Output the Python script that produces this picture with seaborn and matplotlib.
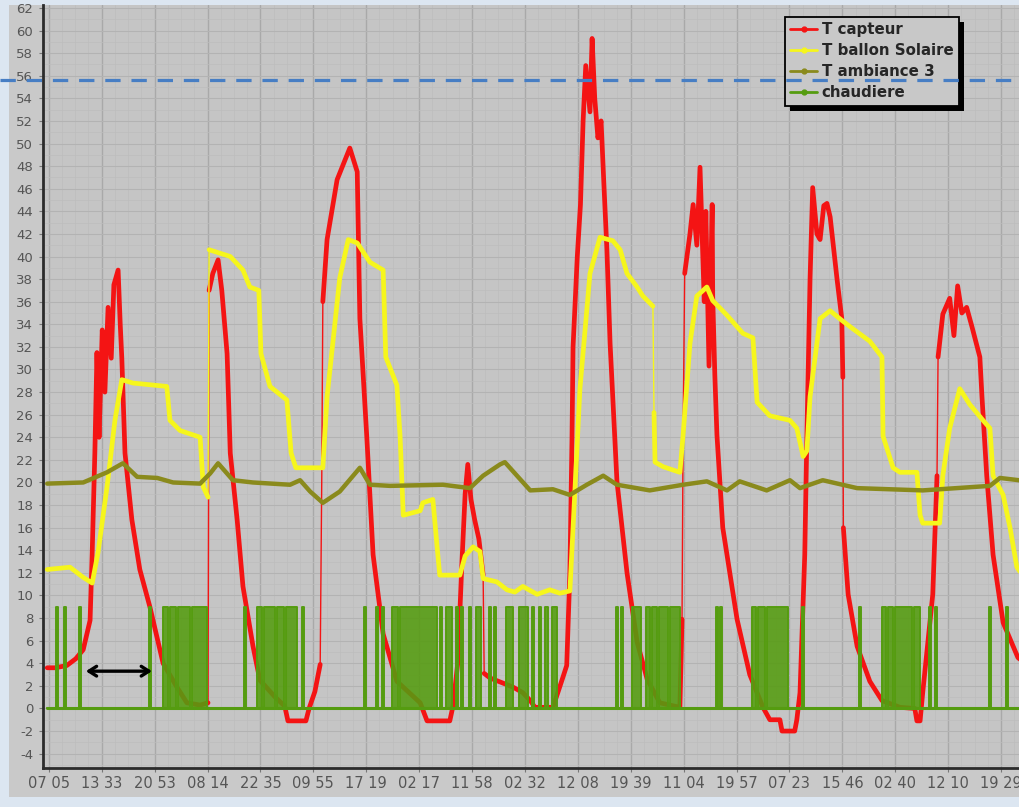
"""Solar collector / tank / room temperatures with boiler on-off trace."""

import matplotlib

matplotlib.use("Agg")

import matplotlib.pyplot as plt
import pandas as pd
import seaborn as sns
from matplotlib.lines import Line2D
from matplotlib.patches import Rectangle
from matplotlib.ticker import FixedLocator, MultipleLocator
from matplotlib.transforms import blended_transform_factory

# x is the logger sample index, one tick label every 100 samples
tick_labels = [
    "07 05", "13 33", "20 53", "08 14", "22 35", "09 55", "17 19", "02 17", "11 58", "02 32",
    "12 08", "19 39", "11 04", "19 57", "07 23", "15 46", "02 40", "12 10", "19 29",
]

red_x = [
    -11, 4, 26, 43, 57, 70, 74, 79, 83, 87,
    93, 98, 104, 110, 115, 123, 127, 130, 136, 149,
    164, 183, 208, 234, 253, 278, 293, 295, 302, 312,
    319, 329, 335, 348, 359, 378, 391, 420, 438, 444,
    478, 484, 495, 505, 508, 510, 518, 537, 561, 575,
    580, 593, 605, 624, 650, 694, 707, 750, 756, 765,
    773, 779, 784, 790, 797, 805, 813, 815, 826, 869,
    888, 902, 911, 945, 962, 971, 977, 981, 983, 991,
    997, 1002, 1007, 1015, 1019, 1024, 1030, 1036, 1041, 1047,
    1053, 1066, 1085, 1104, 1123, 1147, 1185, 1189, 1191, 1194,
    1204, 1210, 1217, 1223, 1231, 1234, 1240, 1246, 1247, 1251,
    1255, 1266, 1293, 1317, 1342, 1355, 1374, 1378, 1402, 1406,
    1412, 1421, 1425, 1431, 1436, 1444, 1450, 1457, 1463, 1469,
    1482, 1491, 1493, 1494, 1503, 1520, 1544, 1567, 1601, 1629,
    1633, 1639, 1644, 1663, 1671, 1673, 1682, 1695, 1703, 1710,
    1718, 1727, 1737, 1752, 1756, 1765, 1777, 1796, 1824, 1837,
]
red_y = [
    3.6, 3.6, 3.8, 4.4, 5.2, 7.8, 13.8, 22.6, 31.5, 24,
    33.5, 28, 35.5, 31, 37.5, 38.8, 34, 31, 22.6, 16.7,
    12.3, 9, 4, 1.9, 0.5, 0.3, 0.5, 37, 38.5, 39.7,
    37, 31.4, 22.6, 16.7, 10.8, 5.5, 2.5, 1.0, 0.2, -1.1,
    -1.1, 0, 1.5, 3.9, 20.6, 36, 41.5, 46.8, 49.6, 47.5,
    34.5, 24.1, 13.6, 6.6, 2.4, 0.5, -1.1, -1.1, 0.2, 4,
    13, 19, 21.6, 18.5, 16.7, 15, 11.8, 3.1, 2.7, 1.9,
    1.4, 0.7, 0.1, 0.1, 2.5, 3.8, 12, 24, 32, 40,
    44.6, 52, 56.9, 52.8, 59.3, 54, 50.5, 52, 46.7, 40.6,
    32.3, 20.1, 12, 5.9, 2.6, 0.5, 0.1, 7.9, 24.2, 38.5,
    42, 44.6, 41, 47.9, 36, 44, 30.3, 44.6, 36.5, 29.5,
    24.2, 16, 7.9, 3, 0.1, -1, -1, -2, -2, -1,
    1.4, 13.6, 24.1, 38, 46.1, 42, 41.5, 44.5, 44.7, 43.5,
    38, 34.5, 29.3, 16, 10.1, 5.5, 2.4, 0.7, 0.1, 0,
    -1.1, -1.1, 1.4, 10.1, 20.6, 31.1, 34.9, 36.3, 33, 37.4,
    35, 35.5, 33.8, 31.1, 27.6, 20.6, 13.6, 7.6, 4.5, 4,
]

yellow_x = [
    -11, 32, 57, 74, 85, 102, 117, 130, 151, 215,
    221, 240, 278, 284, 293, 295, 335, 359, 372, 389,
    393, 410, 442, 450, 459, 510, 518, 542, 558, 575,
    599, 624, 629, 650, 656, 662, 694, 699, 718, 726,
    731, 769, 779, 794, 807, 813, 839, 858, 873, 888,
    915, 939, 958, 977, 983, 996, 1015, 1034, 1058, 1072,
    1085, 1104, 1115, 1134, 1136, 1138, 1153, 1185, 1191, 1204,
    1217, 1236, 1247, 1274, 1304, 1323, 1331, 1355, 1393, 1406,
    1418, 1425, 1431, 1450, 1469, 1487, 1512, 1544, 1567, 1569,
    1588, 1601, 1633, 1639, 1644, 1676, 1682, 1695, 1714, 1733,
    1758, 1771, 1777, 1796, 1809, 1822, 1837,
]
yellow_y = [
    12.3, 12.5, 11.6, 11.1, 13.8, 19.6, 25.5, 29.1, 28.8, 28.5,
    25.5, 24.6, 24, 19.6, 18.7, 40.6, 40, 38.8, 37.3, 37,
    31.4, 28.5, 27.3, 22.6, 21.3, 21.3, 27.6, 38.1, 41.5, 41.2,
    39.5, 38.8, 31.1, 28.6, 24.1, 17.1, 17.5, 18.2, 18.5, 14.3,
    11.8, 11.8, 13.5, 14.3, 13.9, 11.5, 11.2, 10.5, 10.3, 10.8,
    10.1, 10.5, 10.2, 10.4, 16, 28.3, 38.5, 41.7, 41.4, 40.6,
    38.5, 37.3, 36.5, 35.6, 26.2, 21.8, 21.4, 20.9, 24.2, 32.3,
    36.5, 37.3, 36.1, 34.8, 33.2, 32.8, 27.1, 25.9, 25.5, 24.8,
    22.3, 22.8, 27.6, 34.5, 35.2, 34.5, 33.6, 32.5, 31.1, 24.1,
    21.3, 20.9, 20.9, 17.1, 16.4, 16.4, 20.6, 24.8, 28.3, 26.9,
    25.5, 24.8, 20.6, 18.9, 16, 12.5, 11.5,
]

olive_x = [
    -11, 57, 102, 132, 159, 197, 227, 278, 297, 312,
    340, 378, 448, 467, 486, 510, 542, 580, 599, 637,
    737, 788, 813, 845, 854, 877, 902, 945, 977, 1009,
    1040, 1066, 1128, 1191, 1236, 1274, 1298, 1349, 1393, 1412,
    1455, 1520, 1644, 1771, 1790, 1826, 1837,
]
olive_y = [
    19.9, 20, 20.9, 21.7, 20.5, 20.4, 20, 19.9, 20.8, 21.7,
    20.2, 20, 19.8, 20.2, 19.2, 18.2, 19.2, 21.3, 19.8, 19.7,
    19.8, 19.5, 20.6, 21.6, 21.8, 20.6, 19.3, 19.4, 18.9, 19.8,
    20.6, 19.8, 19.3, 19.8, 20.1, 19.3, 20.1, 19.3, 20.2, 19.5,
    20.2, 19.5, 19.3, 19.7, 20.4, 20.2, 20,
]

# boiler relay: sample where it switches on / off, level when on
chaud_on = [
    6, 21, 49, 181, 208, 221, 236, 263, 361, 386,
    399, 423, 440, 471, 588, 610, 622, 641, 656, 731,
    743, 762, 771, 786, 799, 824, 834, 856, 881, 905,
    919, 930, 943, 1064, 1074, 1094, 1121, 1133, 1146, 1166,
    1253, 1261, 1321, 1332, 1349, 1416, 1523, 1567, 1578, 1591,
    1627, 1656, 1667, 1769, 1801,
]
chaud_off = [
    9, 25, 53, 185, 217, 232, 259, 291, 365, 395,
    420, 437, 461, 474, 591, 614, 626, 652, 726, 735,
    754, 765, 775, 790, 809, 828, 837, 869, 898, 909,
    922, 936, 953, 1068, 1077, 1111, 1129, 1142, 1163, 1185,
    1257, 1264, 1329, 1346, 1389, 1419, 1527, 1575, 1588, 1623,
    1639, 1659, 1671, 1773, 1805,
]
chaud_level = 9
chaud_start, chaud_end = -11, 1837

limit_line = 55.6
arrow_from, arrow_to, arrow_y = 62, 187, 3.3

RED = "#f41414"
YELLOW = "#f6f61c"
OLIVE = "#8a8a1c"
GREEN = "#559c10"


def split_jumps(xs, ys):
    """Give each run between sparse sample jumps its own unit id."""
    seg = 0
    rows = []
    for i, (x, y) in enumerate(zip(xs, ys)):
        if i and abs(y - ys[i - 1]) > 8.5 and x - xs[i - 1] <= 3:
            seg += 1
        rows.append({"x": x, "y": y, "seg": seg})
    return pd.DataFrame(rows)


def boiler_trace():
    xs, ys = [chaud_start], [0]
    for a, b in zip(chaud_on, chaud_off):
        xs += [a, a, b, b]
        ys += [0, chaud_level, chaud_level, 0]
    xs.append(chaud_end)
    ys.append(0)
    return pd.DataFrame({"x": xs, "y": ys})


sns.set_style("white")
plt.rcParams["font.family"] = ["DejaVu Sans"]
plt.rcParams["axes.unicode_minus"] = False

W, H = 1019, 807
fig = plt.figure(figsize=(W / 100, H / 100), dpi=100, facecolor="#dce6f1")
panel = Rectangle((9 / W, 10 / H), 1 - 9 / W, 792 / H, transform=fig.transFigure,
                  facecolor="#c9c9c9", edgecolor="none", zorder=-10)
fig.add_artist(panel)
ax = fig.add_axes([43 / W, (H - 768) / H, 1 - 43 / W, 763 / H])
ax.set_zorder(1)
ax.set_facecolor("#c5c5c5")

for xs, ys, color, lw in [
    (red_x, red_y, RED, 3.4),
    (yellow_x, yellow_y, YELLOW, 3.4),
]:
    df = split_jumps(xs, ys)
    sns.lineplot(data=df, x="x", y="y", sort=False, estimator=None, color=color,
                 lw=1.0, legend=False, ax=ax)
    sns.lineplot(data=df, x="x", y="y", units="seg", sort=False, estimator=None,
                 color=color, lw=lw, legend=False, ax=ax)

olive_df = pd.DataFrame({"x": olive_x, "y": olive_y})
sns.lineplot(data=olive_df, x="x", y="y", sort=False, estimator=None, color=OLIVE,
             lw=3.2, legend=False, ax=ax)

boiler = boiler_trace()
ax.fill_between(boiler["x"], 0, boiler["y"], color=GREEN, alpha=0.88, lw=0, zorder=3)
sns.lineplot(data=boiler, x="x", y="y", sort=False, estimator=None, color=GREEN,
             lw=1.4, legend=False, ax=ax, zorder=3)
ax.plot([chaud_start, chaud_end], [0, 0], color=GREEN, lw=2.2, zorder=3)

ax.set_xlim(-19, 1826)
ax.set_ylim(-5.27, 62.26)
tick_pos = [i * 100 - 8 for i in range(len(tick_labels))]
ax.xaxis.set_major_locator(FixedLocator(tick_pos))
ax.xaxis.set_minor_locator(FixedLocator([p + d for p in tick_pos for d in (25, 50, 75)]))
ax.set_xticklabels(tick_labels)
ax.yaxis.set_major_locator(MultipleLocator(2))
ax.yaxis.set_minor_locator(MultipleLocator(1))
ax.set_xlabel("")
ax.set_ylabel("")

ax.grid(which="major", axis="x", color="#a9a9a9", lw=1.0)
ax.grid(which="major", axis="y", color="#b3b3b3", lw=0.8)
ax.grid(which="minor", color="#bdbdbd", lw=0.5)
ax.set_axisbelow(True)

for side in ("top", "right"):
    ax.spines[side].set_visible(False)
for side in ("left", "bottom"):
    ax.spines[side].set_color("#2b2b2b")
    ax.spines[side].set_linewidth(2.0)
ax.tick_params(axis="y", which="major", length=3, width=0.8, color="#777777",
               labelsize=9.5, labelcolor="#555555", pad=4, left=True)
ax.tick_params(axis="x", which="major", length=3, width=0.8, color="#777777",
               labelsize=10.5, labelcolor="#555555", pad=3, bottom=True)
ax.tick_params(which="minor", length=0)

handles = [
    Line2D([0], [0], color=c, lw=2, marker="o", ms=3.5)
    for c in (RED, YELLOW, OLIVE, GREEN)
]
leg = ax.legend(
    handles, ["T capteur", "T ballon Solaire", "T ambiance 3", "chaudiere"],
    loc="upper left", bbox_to_anchor=(0.760, 0.984), borderaxespad=0,
    frameon=True, fancybox=False, edgecolor="black", facecolor="#c8c8c8",
    framealpha=1, prop={"weight": "bold", "size": 10.8}, handlelength=1.8,
    handletextpad=0.3, labelspacing=0.4, borderpad=0.35,
)
leg.get_frame().set_linewidth(1.3)

fig.canvas.draw()
bb = leg.get_window_extent()
inv = ax.transAxes.inverted()
(x0, y0), (x1, y1) = inv.transform([(bb.x0 + 5, bb.y0 - 5), (bb.x1 + 5, bb.y1 - 5)])
ax.add_patch(Rectangle((x0, y0), x1 - x0, y1 - y0, transform=ax.transAxes,
                       facecolor="black", edgecolor="none", zorder=4.9, clip_on=False))

ax.annotate("", xy=(arrow_to, arrow_y), xytext=(arrow_from, arrow_y),
            arrowprops={"arrowstyle": "<->,head_length=0.55,head_width=0.35",
                        "color": "black", "lw": 2.4, "shrinkA": 0, "shrinkB": 0},
            zorder=11)

# dashed limit line drawn at figure level so it runs over the legend and the margin
limit_tf = blended_transform_factory(fig.transFigure, ax.transData)
fig.add_artist(Line2D([0, 1], [limit_line, limit_line], transform=limit_tf,
                      color="#477ec4", lw=2.3, dashes=(4.8, 3.4), zorder=5))

fig.savefig("out.png", dpi=100, facecolor=fig.get_facecolor())
